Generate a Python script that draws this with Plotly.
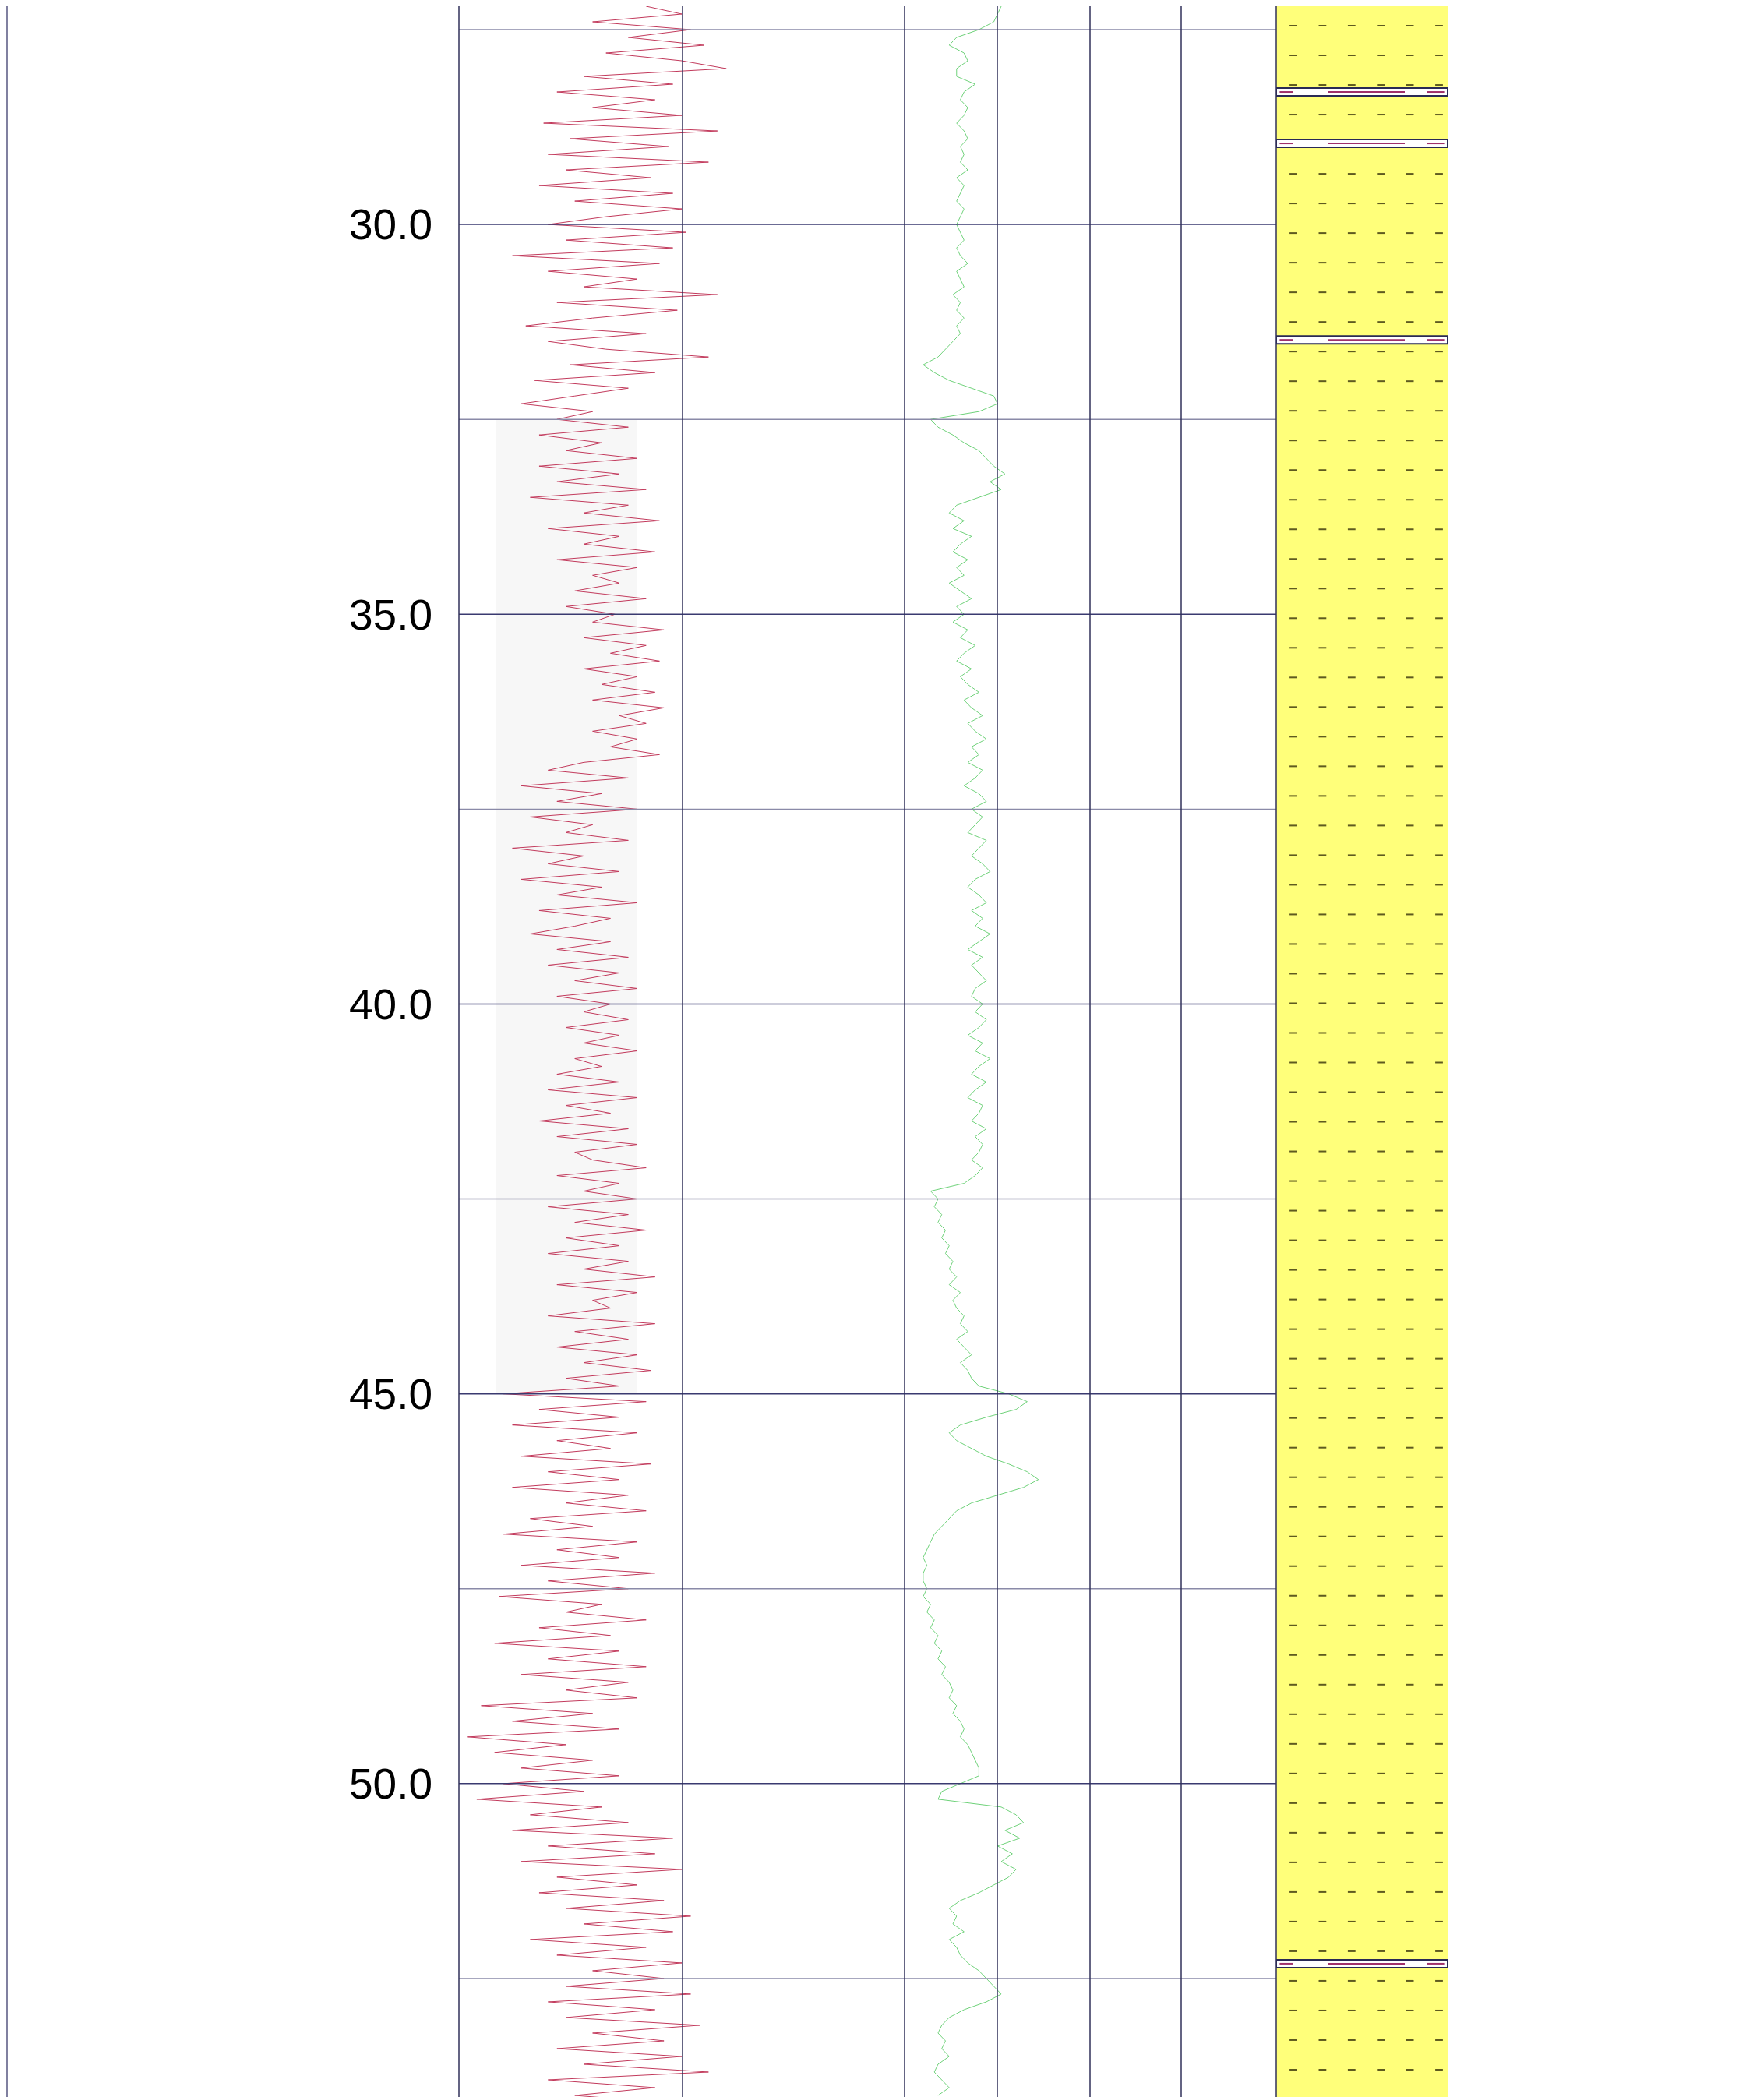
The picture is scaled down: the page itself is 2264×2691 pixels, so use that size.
import numpy as np
import plotly.graph_objects as go

W, H = 2264, 2691

# depth window of the log (m)
depth_top, depth_bottom = 27.2, 54.1

# red curve, sampled every 0.1 m from 27.2 m (track units 0-100)
red_start, red_step = 27.2, 0.1
red_values = [
    42, 50, 30, 52, 38, 55, 33, 50, 60, 28,
    48, 22, 44, 30, 50, 19, 58, 25, 47, 20,
    56, 24, 43, 18, 48, 26, 50, 33,
    20, 51, 24, 48, 12, 45, 20, 40, 28, 58,
    22, 49, 30, 15, 42, 20, 33, 56, 25, 44,
    17, 38, 26, 14, 30, 22, 38, 18, 32, 24,
    40, 18, 36, 22, 42, 16, 38, 28, 45, 20,
    36, 28, 44, 22, 40, 30, 36, 26, 42, 24,
    35, 30, 46, 28, 42, 34, 45, 28, 40, 32,
    44, 30, 46, 36, 42, 30, 40, 34, 45, 28,
    20, 38, 14, 32, 22, 40, 16, 30, 24, 38,
    12, 28, 20, 36, 14, 32, 22, 40, 18, 34,
    26, 16, 34, 22, 38, 20, 36, 26, 40, 22,
    34, 28, 38, 24, 36, 28, 40, 26, 32, 22,
    36, 20, 40, 24, 34, 18, 38, 22, 40, 26,
    30, 42, 22, 36, 28, 40, 20, 38, 26, 42,
    24, 36, 20, 38, 28, 44, 22, 40, 30, 34,
    20, 44, 26, 38, 22, 40, 28, 43, 24, 36,
    10, 42, 18, 36, 12, 40, 22, 34, 14, 43,
    20, 36, 12, 38, 24, 42, 16, 30, 10, 40,
    22, 36, 14, 44, 20, 38, 9, 32, 24, 42,
    18, 34, 8, 36, 20, 42, 14, 38, 24, 40,
    5, 30, 12, 36, 2, 24, 8, 30, 14, 36,
    10, 28, 4, 32, 16, 38, 12, 48, 20, 44,
    14, 50, 22, 40, 18, 46, 24, 52, 28, 48,
    16, 42, 22, 50, 30, 46, 24, 52, 20, 44,
    24, 54, 30, 46, 22, 50, 28, 56, 20, 44,
    26, 48,
]
red_depths = red_start + red_step * np.arange(len(red_values))

# green curve, sampled every 0.1 m from 27.2 m (track units 0-100)
green_start, green_step = 27.2, 0.1
green_values = [
    26, 25, 24, 20, 14,
    12, 16, 17, 14, 14, 19, 16, 15, 17, 16, 14, 16, 17, 15, 16, 15, 17, 14, 16, 15, 14, 16, 15,
    14, 15, 16, 14, 15, 17, 14, 15, 16, 13, 15, 14, 16, 14, 15, 13, 11, 9,
    5, 8, 12, 18, 24, 25, 20,
    7, 9, 13, 16, 20, 22, 24, 27, 23, 26, 20,
    14, 12, 16, 13, 18, 15, 13, 17, 14, 16,
    12, 15, 18, 14, 16, 13, 17, 15, 19, 16,
    14, 18, 15, 17, 20, 16, 18, 21, 17, 19,
    22, 18, 20, 17, 21, 19, 16, 20, 22, 18,
    21, 19, 17, 22, 20, 18, 21, 23, 19, 17,
    20, 22, 18, 21, 19, 23, 20, 17, 21, 18,
    20, 22, 19,
    18, 21, 19, 22, 20, 17, 21, 19, 23, 20,
    18, 22, 19, 17, 21, 20, 18, 22, 19, 21,
    20, 18, 21, 19, 16,
    7, 9, 8, 10, 9, 11, 10, 12, 11, 13,
    12, 14, 12, 15, 13, 14, 16, 15, 17, 14,
    16, 18, 15, 17, 18,
    20, 28, 33, 30, 22, 15, 12, 14, 18, 22,
    28, 33, 36, 32, 25, 18, 14, 12, 10, 8,
    7, 6, 5, 6, 5,
    5, 6, 5, 7, 6, 8, 7, 9, 8, 10,
    9, 11, 10, 12, 13, 12, 14, 13, 15, 16,
    15, 17, 18, 19, 20, 20,
    15, 10, 9,
    26, 30, 32, 27, 31, 25, 29, 26, 30, 28, 24, 20,
    15, 12, 14, 13, 16, 12, 14, 15, 17, 20, 22, 24,
    26, 22, 16, 12, 10, 9, 11, 10, 12, 9, 8, 10, 12, 9,
]
green_depths = green_start + green_step * np.arange(len(green_values))

# thin shale beds in the lithology column (top, base in m)
shale_tops = [28.25, 28.91, 31.43, 52.26]
shale_bases = [28.35, 29.01, 31.53, 52.36]

depth_ticks = [30.0, 35.0, 40.0, 45.0, 50.0]
grid_depths = [27.5, 30.0, 32.5, 35.0, 37.5, 40.0, 42.5, 45.0, 47.5, 50.0, 52.5]

# track borders in pixels
track_edges = [581, 868, 1153, 1272, 1391, 1508, 1630]
litho_left, litho_right = 1630, 1850

fig = go.Figure()

fig.add_trace(go.Scatter(x=red_values, y=red_depths, mode='lines',
                         line=dict(color='#c23a5c', width=1), xaxis='x', yaxis='y'))
fig.add_trace(go.Scatter(x=green_values, y=green_depths, mode='lines',
                         line=dict(color='#6fd27a', width=1), xaxis='x2', yaxis='y'))

# sand dash pattern
px, py = [], []
d = 27.45
while d < depth_bottom:
    for c in [0.1, 0.27, 0.44, 0.61, 0.78, 0.95]:
        px.append(c)
        py.append(d)
    d += 0.38
fig.add_trace(go.Scatter(x=px, y=py, mode='markers', xaxis='x3', yaxis='y',
                         marker=dict(symbol='line-ew', size=7, line=dict(color='#5e5a20', width=2))))

shapes = []
# faint shading in the first track
shapes.append(dict(type='rect', xref='paper', yref='y', x0=628 / W, x1=810 / W, y0=32.5, y1=45.0,
                   fillcolor='#f7f7f7', line=dict(width=0), layer='below'))
shapes.append(dict(type='rect', xref='x3', yref='paper', x0=0, x1=1, y0=0, y1=1,
                   fillcolor='#ffff7a', line=dict(width=0), layer='below'))
for t, b in zip(shale_tops, shale_bases):
    shapes.append(dict(type='rect', xref='x3', yref='y', x0=0, x1=1, y0=t, y1=b,
                       fillcolor='white', line=dict(color='#2a2a55', width=2)))
    for a, z in [(0.02, 0.1), (0.3, 0.75), (0.88, 0.98)]:
        shapes.append(dict(type='line', xref='x3', yref='y', x0=a, x1=z,
                           y0=(t + b) / 2, y1=(t + b) / 2, line=dict(color='#a0306a', width=2)))

for g in grid_depths:
    shapes.append(dict(type='line', xref='paper', yref='y', x0=581 / W, x1=1630 / W,
                       y0=g, y1=g, line=dict(color='#8a8aa8' if g % 5 else '#3a3a70', width=1.5)))
for e in track_edges:
    shapes.append(dict(type='line', xref='paper', yref='paper', x0=e / W, x1=e / W, y0=0, y1=1,
                       line=dict(color='#30305a', width=1.5)))
for e in [1, 2262]:
    shapes.append(dict(type='line', xref='paper', yref='paper', x0=e / W, x1=e / W, y0=0, y1=1,
                       line=dict(color='#8080a0', width=2)))

fig.update_layout(
    width=W, height=H, margin=dict(l=0, r=0, t=0, b=0),
    paper_bgcolor='white', plot_bgcolor='white', showlegend=False,
    shapes=shapes,
    xaxis=dict(domain=[581 / W, 1153 / W], range=[0, 100], visible=False),
    xaxis2=dict(domain=[1153 / W, 1630 / W], range=[0, 100], visible=False),
    xaxis3=dict(domain=[litho_left / W, litho_right / W], range=[0, 1], visible=False),
    yaxis=dict(range=[depth_bottom, depth_top], anchor='free', position=581 / W,
               tickvals=depth_ticks, ticktext=[f'{v:.1f}' for v in depth_ticks],
               ticks='', showgrid=False, zeroline=False, showline=False,
               ticklabelstandoff=34,
               tickfont=dict(family='Liberation Sans, Arial', size=55, color='black')),
)

fig.write_html("out.html")
